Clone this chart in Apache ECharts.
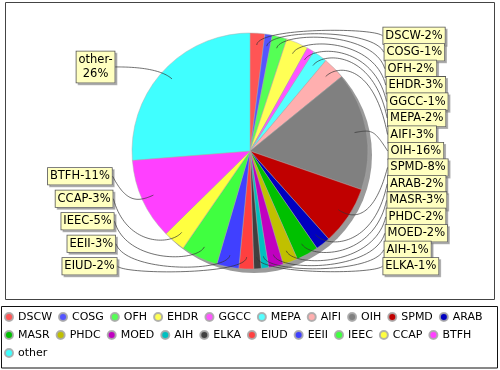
<!DOCTYPE html>
<html><head><meta charset="utf-8">
<script src="https://cdn.jsdelivr.net/npm/echarts@6/dist/echarts.min.js"></script>
<style>html,body{margin:0;padding:0;background:#fff}#c{width:500px;height:370px}</style>
</head><body><div id="c"></div>
<script>
// ---- data ----
const categories = ['DSCW','COSG','OFH','EHDR','GGCC','MEPA','AIFI','OIH','SPMD','ARAB','MASR','PHDC','MOED','AIH','ELKA','EIUD','EEII','IEEC','CCAP','BTFH','other'];
const shares = [2,1,2,3,1,2,3,16,8,2,3,2,2,1,1,2,3,5,3,11,26];
const sliceColors = ['#ff5555','#5555ff','#55ff55','#ffff55','#ff55ff','#55ffff','#ffafaf','#808080','#c00000','#0000c0','#00c000','#c0c000','#c000c0','#00c0c0','#404040','#ff4040','#4040ff','#40ff40','#ffff40','#ff40ff','#40ffff'];
const wrappedLabels = ['other'];

// ---- layout constants ----
const CX = 250, CY = 151, R = 118;
const LINK_K = 1.05, DEPTH_K = 0.9;
const TOP = 27, BOTTOM = 275, GAP = 5, LINE_H = 14.5, PAD_V = 1;
const PIE_SERIES = 1;

const chart = echarts.init(document.getElementById('c'), null, {renderer: 'canvas'});

function boxH(name) { return (wrappedLabels.includes(name) ? 2 : 1) * LINE_H + 2 * PAD_V + 1; }

function distribute(list) {
  list.sort((a, b) => a.y - b.y);
  list.forEach(o => { o.y = Math.min(Math.max(o.y, TOP + o.h / 2), BOTTOM - o.h / 2); });
  for (let k = 1; k < list.length; k++) {
    const p = list[k - 1], o = list[k];
    const mn = p.y + p.h / 2 + GAP + o.h / 2;
    if (o.y < mn) o.y = mn;
  }
  for (let k = list.length - 1; k >= 0; k--) {
    const o = list[k];
    const mx = k === list.length - 1 ? BOTTOM - o.h / 2 : list[k + 1].y - list[k + 1].h / 2 - GAP - o.h / 2;
    if (o.y > mx) o.y = mx;
  }
  if (list.length && list[0].y - list[0].h / 2 < TOP) {
    const sum = list.reduce((s, o) => s + o.h, 0);
    const g = list.length > 1 ? (BOTTOM - TOP - sum) / (list.length - 1) : 0;
    let y = TOP;
    list.forEach(o => { y += o.h / 2; o.y = y; y += o.h / 2 + g; });
  }
}

function plan(seriesIndex) {
  const data = chart.getModel().getSeriesByIndex(seriesIndex).getData();
  const recs = [];
  for (let i = 0; i < data.count(); i++) {
    const l = data.getItemLayout(i);
    const mid = (l.startAngle + l.endAngle) / 2;
    const lr = l.r * LINK_K;
    recs.push({
      i, mid, cx: l.cx, cy: l.cy, r: l.r, lr,
      right: Math.cos(mid) >= 0,
      y: l.cy + lr * Math.sin(mid),
      h: boxH(data.getName(i))
    });
  }
  distribute(recs.filter(o => o.right));
  distribute(recs.filter(o => !o.right));
  const out = {};
  recs.forEach(o => {
    const t = Math.min(1, Math.abs(o.y - o.cy) / (o.r + 2));
    const off = o.r * 1.12 + 5.5 * Math.cos(t * Math.PI / 2);
    o.edge = o.right ? o.cx + off : o.cx - off;
    const p0 = [o.cx + o.r * DEPTH_K * Math.cos(o.mid), o.cy + o.r * DEPTH_K * Math.sin(o.mid)];
    const p1 = [o.cx + o.lr * Math.cos(o.mid), o.cy + o.lr * Math.sin(o.mid)];
    const p2 = [o.right ? o.cx + o.lr : o.cx - o.lr, p1[1]];
    const p3 = [o.edge, o.y];
    const pts = [];
    const N = 40;
    for (let s = 0; s <= N; s++) {
      const u = s / N, a = (1 - u) * (1 - u) * (1 - u), b = 3 * (1 - u) * (1 - u) * u, c = 3 * (1 - u) * u * u, d = u * u * u;
      pts.push([a * p0[0] + b * p1[0] + c * p2[0] + d * p3[0], a * p0[1] + b * p1[1] + c * p2[1] + d * p3[1]]);
    }
    o.pts = pts;
    out[o.i] = o;
  });
  return out;
}

const pieData = categories.map((n, i) => ({name: n, value: shares[i], itemStyle: {color: sliceColors[i]}}));

const frames = [
  {id: 'plotBox', type: 'rect', shape: {x: 5.5, y: 2.5, width: 489, height: 297}, style: {fill: 'none', stroke: '#444', lineWidth: 1}, silent: true},
  {id: 'legendBox', type: 'rect', shape: {x: 1.5, y: 306.5, width: 496, height: 61.5}, style: {fill: 'none', stroke: '#111', lineWidth: 1}, silent: true}
];

const option = {
  backgroundColor: '#ffffff',
  animation: false,
  legend: {
    data: categories,
    left: 4, top: 311, width: 492, padding: 0,
    itemWidth: 8, itemHeight: 8, itemGap: 6, icon: 'circle',
    selectedMode: false,
    textStyle: {fontFamily: 'DejaVu Sans', fontSize: 11, lineHeight: 12, color: '#000'}
  },
  graphic: frames,
  series: [
    {
      type: 'pie', name: 'shadow', center: [CX + 4, CY + 4], radius: R,
      silent: true, z: 1,
      data: [{value: 1, name: '__shadow'}],
      itemStyle: {color: '#9a9a9a'},
      label: {show: false}, labelLine: {show: false}, emphasis: {disabled: true}
    },
    {
      type: 'pie', name: 'share', center: [CX, CY], radius: R, z: 2,
      startAngle: 90, clockwise: true, avoidLabelOverlap: false,
      data: pieData,
      itemStyle: {borderColor: 'rgba(170,170,170,0.9)', borderWidth: 0.5},
      emphasis: {disabled: true},
      label: {
        show: true, position: 'outside',
        formatter: p => p.name + '-' + (wrappedLabels.includes(p.name) ? '\n' : '') + Math.round(p.percent) + '%',
        fontFamily: 'DejaVu Sans', fontSize: 11.5, lineHeight: LINE_H, color: '#000',
        padding: [PAD_V, 2, PAD_V, 2],
        backgroundColor: '#ffffc0', borderColor: '#555', borderWidth: 0.8,
        shadowColor: 'rgba(130,130,130,0.55)', shadowOffsetX: 2, shadowOffsetY: 2, shadowBlur: 0
      },
      labelLine: {show: false},
      labelLayout: function (params) {
        const pl = plan(params.seriesIndex);
        const o = pl[params.dataIndex];
        if (!o) return {};
        const w = params.labelRect.width;
        return {
          x: o.right ? o.edge + w / 2 : o.edge - w / 2,
          y: o.y,
          align: 'center', verticalAlign: 'middle'
        };
      }
    }
  ]
};
chart.setOption(option);

// leader lines, built from the pie layout the library computed
const pl = plan(PIE_SERIES);
const links = Object.keys(pl).map(k => ({
  id: 'link' + k, type: 'polyline', z: 5, silent: true,
  shape: {points: pl[k].pts},
  style: {fill: null, stroke: '#333', lineWidth: 0.7}
}));
chart.setOption({graphic: frames.concat(links)});
</script>
</body></html>
